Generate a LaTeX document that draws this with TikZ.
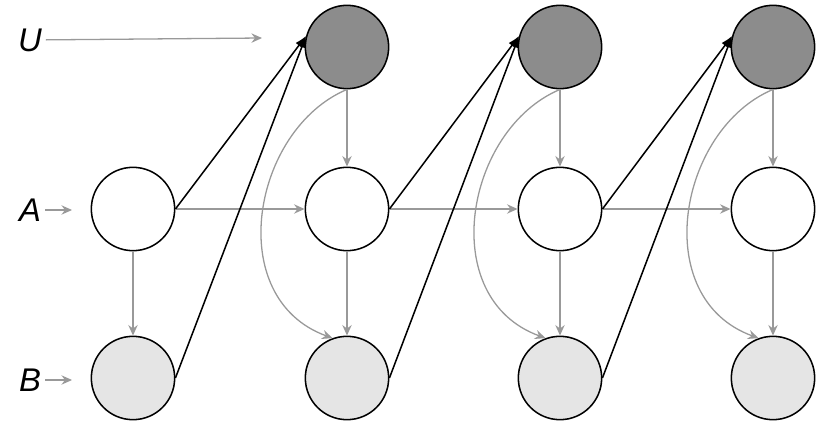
\documentclass[tikz,border=0pt]{standalone}
\usepackage{fontspec}
\setmainfont{Liberation Sans}
\usetikzlibrary{arrows.meta}
\begin{document}
\begin{tikzpicture}[x=0.03cm,y=-0.03cm]
%%%%%%%%%%%%%%%%%%%%%%%%%%%%%%%%%%%%%%%%%%%%%%%%%%%%%%%%%%%%%%
%styles
\tikzset{unode/.style={circle,fill=black!45,minimum size=2.5cm,inner sep=0pt,draw=black,line width=1.3pt},
  anode/.style={circle,fill=white,minimum size=2.5cm,inner sep=0pt,draw=black,line width=1.3pt},
  bnode/.style={circle,fill=black!10,minimum size=2.5cm,inner sep=0pt,draw=black,line width=1.3pt},
  glink/.style={->,>={Stealth[length=9pt,width=8pt,inset=3pt]},draw=black!40,line width=1.1pt},
  blink/.style={->,>={Latex[length=10pt,width=7pt]},draw=black,line width=1.3pt},
  lbl/.style={font=\fontsize{28}{30}\selectfont\itshape}}
\useasboundingbox (0,0) rectangle (828,427);
%labels
\node[lbl] (lu) at (30,40) {U};
\node[lbl] (la) at (30,210) {A};
\node[lbl] (lb) at (30,380) {B};
\coordinate (eu) at (262,38);
\coordinate (ea) at (72,210);
\coordinate (eb) at (72,380);
%nodes
\foreach \i/\x in {1/133,2/347,3/560,4/773}{
  \node[anode] (a\i) at (\x,209) {};
  \node[bnode] (b\i) at (\x,378) {};
}
\foreach \i/\x in {2/347,3/560,4/773}
  \node[unode] (u\i) at (\x,47) {};
%%%%%%%%%%%%%%%%%%%%%%%%%%%%%%%%%%%%%%%%%%%%%%%%%%%%%%%%%%%%%%
%ARROWS
\draw[glink] (lu) -- (eu);
\draw[glink] (la) -- (ea);
\draw[glink] (lb) -- (eb);
\draw[glink] (a1) -- (b1);
\foreach \i [evaluate=\i as \j using int(\i-1)] in {2,3,4}{
  \draw[glink] (a\j) -- (a\i);
  \draw[glink] (u\i) -- (a\i);
  \draw[glink] (a\i) -- (b\i);
  \draw[glink] (u\i.south) .. controls +(-95,40) and +(-110,-40) .. (b\i.110);
  \draw[blink] (a\j.east) -- (u\i.165);
  \draw[blink] (b\j.east) -- (u\i.165);
}
\end{tikzpicture}
\end{document}
